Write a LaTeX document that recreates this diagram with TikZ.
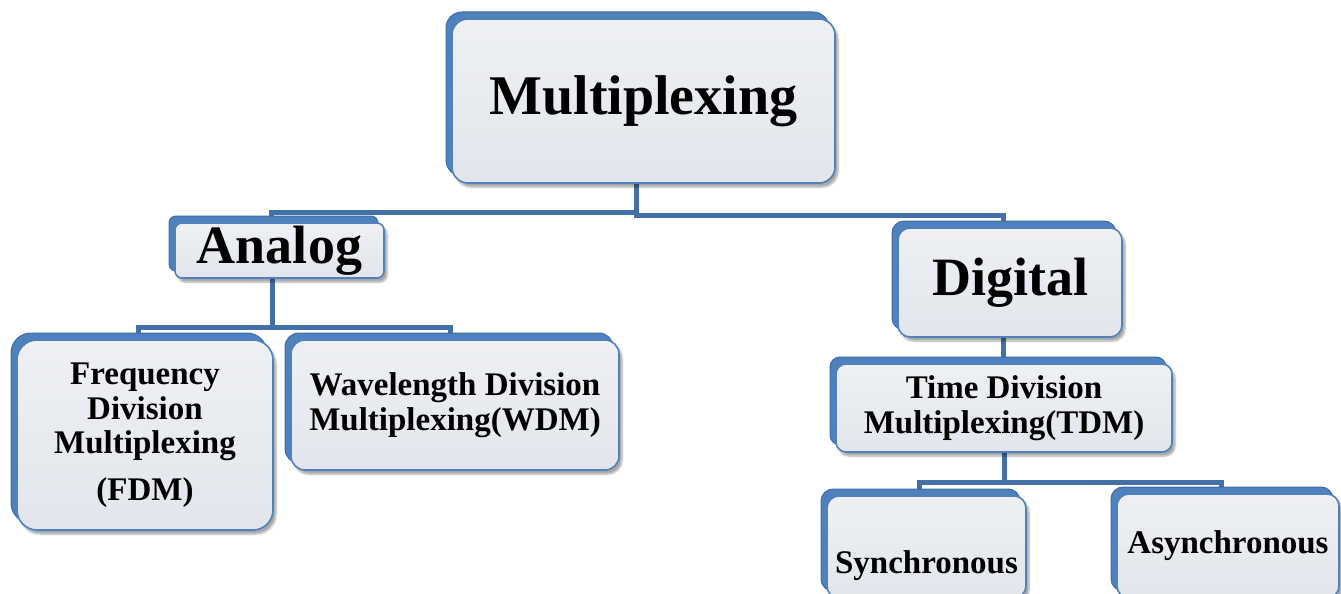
\documentclass[tikz,border=0pt]{standalone}
\usepackage{fontspec}
\setmainfont{Liberation Serif}
\usetikzlibrary{shadows,shadows.blur,backgrounds}
\definecolor{boxblue}{HTML}{4F81BD}
\definecolor{boxedge}{HTML}{3E6DA6}
\definecolor{facetop}{HTML}{EEF0F4}
\definecolor{facebot}{HTML}{E2E5EB}
\definecolor{connblue}{HTML}{4470A8}
\tikzset{
  box/.style={draw=boxblue, line width=1.6pt, top color=facetop, bottom color=facebot,
    inner sep=0pt, align=center, text=black,
    blur shadow={shadow xshift=3pt, shadow yshift=-4pt, shadow blur steps=6, shadow opacity=35},
    general shadow={shadow xshift=-6pt, shadow yshift=7pt, fill=boxblue, draw=boxedge, line width=1pt}},
  bigtxt/.style={font=\bfseries\fontsize{56}{60}\selectfont},
  midtxt/.style={font=\bfseries\fontsize{54}{58}\selectfont},
  smalltxt/.style={font=\bfseries\fontsize{33}{34.5}\selectfont},
  conn/.style={draw=connblue, line width=5pt},
}
\begin{document}
\begin{tikzpicture}[x=1pt,y=-1pt]
\useasboundingbox (0,0) rectangle (1341,594);
\clip (0,0) rectangle (1341,594);

\node[box, bigtxt, minimum width=383pt, minimum height=164pt, rounded corners=16pt] (mux) at (643.5,101) {Multiplexing};
\node[box, midtxt, minimum width=209pt, minimum height=55pt, rounded corners=7pt] (analog) at (279.5,250.5) {Analog};
\node[box, midtxt, minimum width=224pt, minimum height=109pt, rounded corners=12pt] (digital) at (1010,282.5) {Digital};
\node[box, smalltxt, minimum width=256pt, minimum height=190pt, rounded corners=20pt] (fdm) at (145,435) {Frequency\\Division\\Multiplexing\\[12pt](FDM)};
\node[box, smalltxt, minimum width=328pt, minimum height=130pt, rounded corners=14pt] (wdm) at (455,405) {Wavelength Division\\Multiplexing(WDM)};
\node[box, smalltxt, minimum width=336pt, minimum height=88pt, rounded corners=10pt] (tdm) at (1004,408) {Time Division\\Multiplexing(TDM)};
\node[box, smalltxt, minimum width=199pt, minimum height=102pt, rounded corners=12pt] (sync) at (926.5,547) {\parbox[c][60pt][b]{190pt}{\centering Synchronous}};
\node[box, smalltxt, minimum width=222pt, minimum height=104pt, rounded corners=12pt] (async) at (1228,546) {Asynchronous};

\coordinate (dj) at ([xshift=-7pt]digital.south);
\begin{scope}[on background layer]
\draw[conn] ([xshift=-7pt]mux.south) -- ++(0,29) -| ([xshift=-8pt]analog.north);
\draw[conn] ([xshift=-7pt]mux.south) -- ++(0,32) -| ([xshift=-7pt]digital.north);
\draw[conn] ([xshift=-7pt]analog.south) -- ++(0,49) -| ([xshift=-7pt]fdm.north);
\draw[conn] ([xshift=-7pt]analog.south) -- ++(0,49) -| ([xshift=-5pt]wdm.north);
\draw[conn] (dj) -- (dj |- tdm.north);
\draw[conn] (tdm.south) -- ++(0,30) -| ([xshift=-7pt]sync.north);
\draw[conn] (tdm.south) -- ++(0,30) -| ([xshift=-7pt]async.north);
\end{scope}
\end{tikzpicture}
\end{document}
